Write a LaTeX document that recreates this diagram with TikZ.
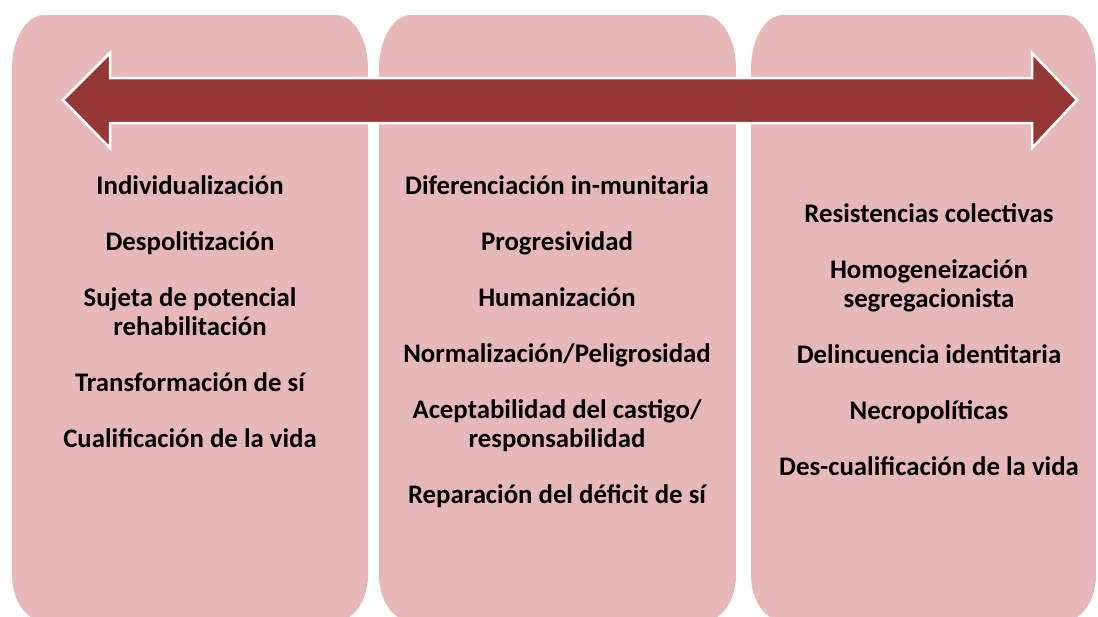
\documentclass[tikz,border=0pt]{standalone}
\usepackage{fontspec}
\setmainfont{Carlito}
\usetikzlibrary{positioning}

\definecolor{panelrosa}{HTML}{E6B8B7}
\definecolor{flechaguinda}{HTML}{953735}

\tikzset{
  panel/.style={fill=panelrosa},
  flecha/.style={fill=flechaguinda, draw=white, line width=2.5pt, line join=miter},
  lista/.style={align=center, anchor=base, inner sep=0pt,
    font=\fontsize{26.8}{29}\selectfont\bfseries},
}

\begin{document}
\begin{tikzpicture}[x=1pt,y=-1pt]
\useasboundingbox (0,0) rectangle (1098,616);
\clip (0,0) rectangle (1098,616);
% the three columns
\foreach \a/\b in {12/368, 379/736, 751/1096}
  \fill[panel] (\a,69) .. controls (\a,39) and (\a+14,15) .. (\a+32,15)
    -- (\b-32,15) .. controls (\b-14,15) and (\b,39) .. (\b,69)
    -- (\b,575) .. controls (\b,600) and (\b-14,621) .. (\b-32,621)
    -- (\a+32,621) .. controls (\a+14,621) and (\a,600) .. (\a,575) -- cycle;
% double arrow across
\draw[flecha] (63,100) -- (110,53) -- (110,78) -- (1032,78) -- (1032,53)
  -- (1077,100) -- (1032,148) -- (1032,123) -- (110,123) -- (110,148) -- cycle;
% texts (base = last line)
\node[lista] (izq) at (190,447) {Individualización\\[27pt]
  Despolitización\\[27pt]
  Sujeta de potencial\\rehabilitación\\[27pt]
  Transformación de sí\\[27pt]
  Cualificación de la vida};
\node[lista] (centro) at (557,503) {Diferenciación in-munitaria\\[27pt]
  Progresividad\\[27pt]
  Humanización\\[27pt]
  Normalización/Peligrosidad\\[27pt]
  Aceptabilidad del castigo/\\responsabilidad\\[27pt]
  Reparación del déficit de sí};
\node[lista] (der) at (929,475) {Resistencias colectivas\\[27pt]
  Homogeneización\\segregacionista\\[27pt]
  Delincuencia identitaria\\[27pt]
  Necropolíticas\\[27pt]
  Des-cualificación de la vida};
\end{tikzpicture}
\end{document}
